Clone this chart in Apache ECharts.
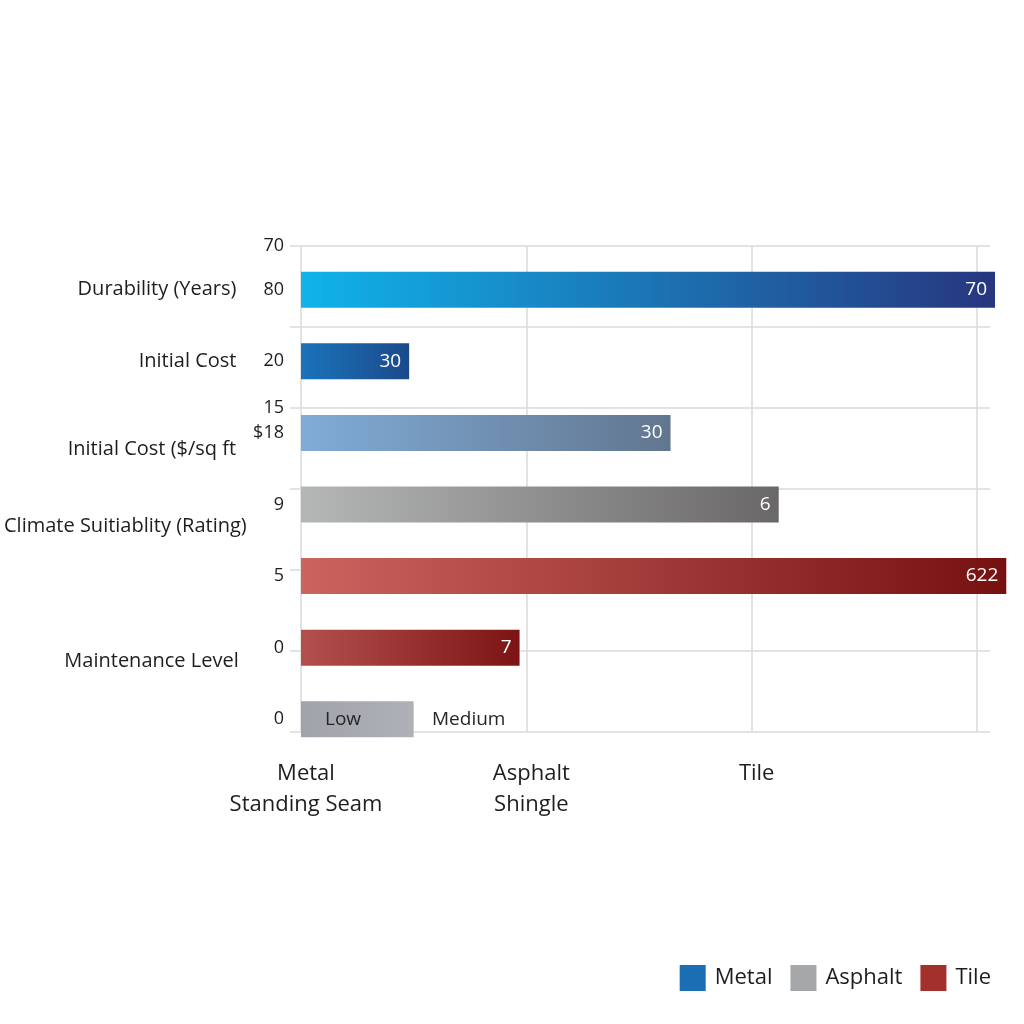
<!DOCTYPE html>
<html><head><meta charset="utf-8">
<script src="https://cdn.jsdelivr.net/npm/echarts@6/dist/echarts.min.js"></script>
<style>html,body{margin:0;padding:0;background:#fff}#c{width:1024px;height:1024px}</style>
</head><body><div id="c"></div>
<script>
// ---- data ----
const rowNames = ['Durability (Years)', 'Initial Cost', 'Initial Cost ($/sq ft', 'Climate Suitiablity (Rating)', '', 'Maintenance Level', ''];
const rowTicks = ['80', '20', '$18', '9', '5', '0', '0'];
const gridTicks = ['70', '', '15', '', '', '', ''];
const xLabels = ['Metal\nStanding Seam', 'Asphalt\nShingle', 'Tile'];
const metalVals   = [3.08, 0.48, 1.64, null, null, null, null];
const asphaltVals = [null, null, null, 2.12, null, null, 0.50];
const tileVals    = [null, null, null, null, 3.13, 0.97, null];
const barLabels  = ['70', '30', '30', '6', '622', '7', 'Low'];
const sideLabels = ['', '', '', '', '', '', 'Medium'];
const legendNames = ['Metal', 'Asphalt', 'Tile'];

// ---- styles ----
const FONT = 'Open Sans';
const XMAX = 3.0577;
const GRID_COLOR = '#dadada';
const TEXT = '#1e1e1e';
const nameDrop = [0, 0, 32, 44, 0, 28, 0];   // vertical nudge of the row names
const nameGap  = [27, 27, 17, 27, 27, 35, 27]; // gap between row name and row number
const grads = [
  ['#10b3ea', '#27367f'],
  ['#1a73ba', '#1c4a8b'],
  ['#80acd7', '#62768f'],
  ['#b5b7b7', '#6a6768'],
  ['#cb635f', '#761111'],
  ['#b3504d', '#7c1414'],
  ['#a0a3aa', '#aeb1b7']
];
const seriesColors = ['#1a6eb3', '#a6a7a9', '#a3302c'];

function grad(c) {
  return new echarts.graphic.LinearGradient(0, 0, 1, 0, [{offset: 0, color: c[0]}, {offset: 1, color: c[1]}]);
}
function makeData(vals) {
  return vals.map((v, i) => {
    if (v == null) return null;
    const item = {value: v, itemStyle: {color: grad(grads[i])}};
    if (sideLabels[i]) {
      item.label = {
        position: 'insideLeft', distance: 24, color: '#262626',
        formatter: '{a|' + barLabels[i] + '}{b|' + sideLabels[i] + '}',
        rich: {
          a: {width: 107, fontSize: 19, fontFamily: FONT, color: '#262626'},
          b: {fontSize: 19, fontFamily: FONT, color: '#262626'}
        }
      };
    }
    return item;
  });
}
function makeSeries(name, vals, color) {
  return {
    name: name, type: 'bar', xAxisIndex: 0, yAxisIndex: 0,
    barWidth: 36, barGap: '-100%', clip: false,
    itemStyle: {color: color},
    label: {
      show: true, position: 'insideRight', distance: 8, color: '#fff',
      fontSize: 19, fontFamily: FONT,
      formatter: p => barLabels[p.dataIndex]
    },
    data: makeData(vals)
  };
}
const nameRich = {v: {fontSize: 18, fontFamily: FONT, color: TEXT}};
nameDrop.forEach((d, i) => {
  nameRich['n' + i] = {fontSize: 20, fontFamily: FONT, color: TEXT, padding: [d, nameGap[i], 0, 0]};
});

const chart = echarts.init(document.getElementById('c'));
chart.setOption({
  backgroundColor: '#fff',
  animation: false,
  textStyle: {fontFamily: FONT},
  grid: [
    {left: 301, right: 34, top: 254, height: 501},
    {left: 301, right: 34, top: 246, height: 486}
  ],
  xAxis: [
    {type: 'value', gridIndex: 0, min: 0, max: XMAX, show: false},
    {type: 'value', gridIndex: 1, min: 0, max: XMAX, interval: 1,
      axisLine: {show: false}, axisTick: {show: false},
      splitLine: {show: true, showMaxLine: false, lineStyle: {color: GRID_COLOR, width: 1.5}},
      axisLabel: {
        showMaxLabel: false, margin: 26, fontSize: 22, lineHeight: 31, color: TEXT, fontFamily: FONT,
        padding: [0, 0, 0, 10],
        formatter: v => xLabels[v] || ''
      }
    }
  ],
  yAxis: [
    {type: 'category', gridIndex: 0, inverse: true, data: rowTicks,
      axisLine: {show: false}, axisTick: {show: false}, splitLine: {show: false},
      axisLabel: {
        margin: 17, fontSize: 18, color: TEXT, fontFamily: FONT,
        formatter: (v, i) => (rowNames[i] ? '{n' + i + '|' + rowNames[i] + '}' : '') + '{v|' + v + '}',
        rich: nameRich
      }
    },
    {type: 'value', gridIndex: 1, inverse: true, min: 0, max: 6, interval: 1,
      axisLine: {show: false},
      axisTick: {show: true, length: 11, lineStyle: {color: GRID_COLOR, width: 1.5}},
      splitLine: {show: true, lineStyle: {color: GRID_COLOR, width: 1.5}},
      axisLabel: {margin: 17, fontSize: 18, color: TEXT, fontFamily: FONT,
        formatter: v => gridTicks[v] || ''}
    }
  ],
  legend: {
    data: legendNames, right: 28, top: 960, icon: 'rect',
    itemWidth: 26, itemHeight: 26, itemGap: 18,
    textStyle: {fontSize: 22, color: TEXT, fontFamily: FONT, padding: [0, 0, 0, 4]}
  },
  series: [
    makeSeries(legendNames[0], metalVals, seriesColors[0]),
    makeSeries(legendNames[1], asphaltVals, seriesColors[1]),
    makeSeries(legendNames[2], tileVals, seriesColors[2])
  ]
});
</script>
</body></html>
